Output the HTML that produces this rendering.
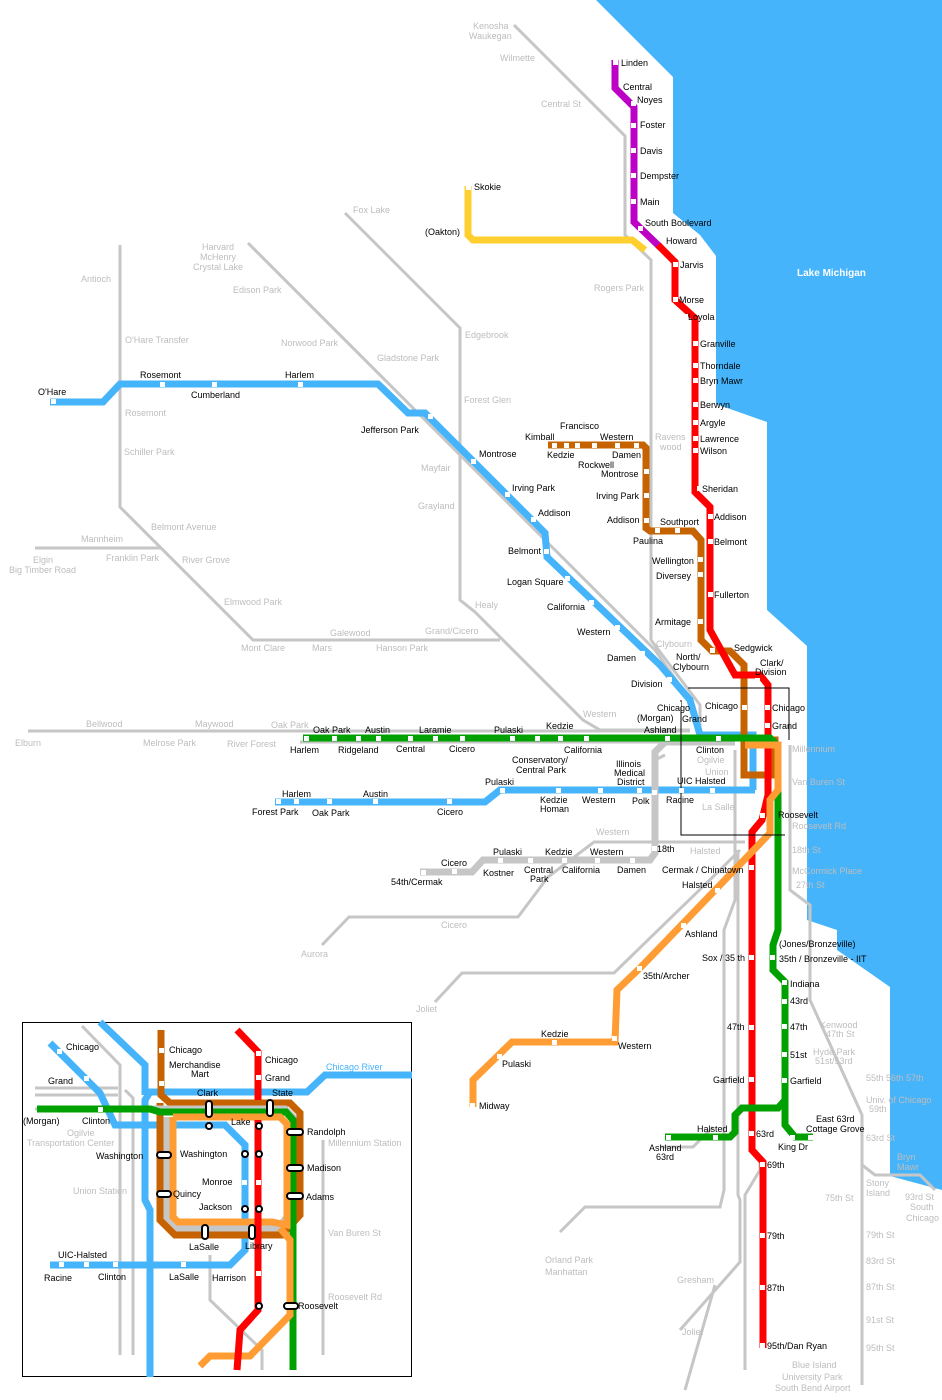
<!DOCTYPE html>
<html><head><meta charset="utf-8"><style>
html,body{margin:0;padding:0;background:#fff;}
svg{display:block;}
text{font-family:"Liberation Sans",sans-serif;font-size:9px;fill:#000;}
g.g text{fill:#bdbdbd;}
.gl{fill:none;stroke:#c6c6c6;stroke-width:3;stroke-linejoin:miter;}
.ln{fill:none;stroke-width:7;stroke-linejoin:miter;}
.st{fill:#fff;}
text.lake{fill:#fff;font-weight:bold;font-size:10px;}
</style></head><body>
<svg width="942" height="1400" viewBox="0 0 942 1400" xmlns="http://www.w3.org/2000/svg">
<!-- Lake -->
<polygon fill="#45b4fa" points="596,0 942,0 942,1190 890,1176 890,987 837,950 837,930 807,920 807,646 767,610 767,422 716,404 716,256 700,235 673,213 673,77"/>
<text class="lake" x="797" y="276">Lake Michigan</text>

<!-- Gray Metra lines -->
<g class="gl">
<polyline points="514,25 625,136 625,235 651,260 651,640 700,705 700,735"/>
<polyline points="120,245 120,507 253,640 500,640"/>
<polyline points="35,548 162,548"/>
<polyline points="345,213 460,328 460,600 475,612 583,720 600,730 690,730"/>
<polyline points="248,243 430,425 520,515 655,650 690,700 700,733"/>
<polyline points="28,731 300,731 690,731"/>
<polyline points="300,742 690,742"/>
<polyline points="322,945 349,917 518,917 548,877 594,842 745,842"/>
<polyline points="435,1002 462,973 614,973 720,870 740,850"/>
<polyline points="790,745 790,890 810,905 810,1000 862,1115 862,1385"/>
<polyline points="862,1165 875,1175 920,1175 935,1190"/>
<polyline points="680,1330 740,1262 740,1200 738,1195 738,850"/>
<polyline points="560,1232 585,1207 720,1207 724,1190 724,930 735,900 735,750"/>
<polyline points="685,1390 715,1285"/>
<polyline points="660,1147 693,1147 713,1127"/>
<polyline points="745,1370 745,1195 760,1170 760,1160"/>
<polyline points="655,760 665,755"/>
</g>

<!-- Yellow -->
<polyline class="ln" stroke="#ffcf30" points="468,186 468,235 473,240 632,240 645,250"/>
<!-- Purple -->
<polyline class="ln" stroke="#bd00c6" points="615,60 615,88 634,107 634,222 660,247"/>
<!-- Blue -->
<polyline class="ln" stroke="#45b4fa" points="50,402 103,402 120,384 378,384 408,413 425,413 545,533 547,557 660,665 690,700 700,735 753,735 753,790"/>
<polyline class="ln" stroke="#45b4fa" points="275,802 485,802 500,790 755,790"/>
<!-- Pink (gray) -->
<polyline class="ln" stroke="#c6c6c6" points="420,872 472,872 483,860 650,860 655,853 655,752 665,742 735,742"/>
<!-- Brown -->
<polyline class="ln" stroke="#c66300" points="548,445 643,445 646,448 646,528 650,531 693,531 701,540 701,640 712,651 730,651 744,665 744,775 775,775 775,740 744,740"/>
<!-- Red -->
<polyline class="ln" stroke="#ff0000" points="658,245 675,262 675,300 695,318 695,492 710,507 710,630 735,675 760,675 768,685 768,795 762,820 752,832 752,1150 763,1162 763,1348"/>
<!-- Green -->
<polyline class="ln" stroke="#00a000" points="303,738 770,738 778,746 778,930 773,945 773,970 785,982 785,1125 795,1137 813,1137"/>
<polyline class="ln" stroke="#00a000" points="785,1100 778,1108 742,1108 735,1115 735,1132 730,1137 665,1137"/>
<!-- Orange -->
<polyline class="ln" stroke="#ff9c33" points="473,1107 473,1080 512,1042 615,1042 617,990 640,968 720,885 770,833 770,800 778,790 778,745 745,745"/>

<!-- loop detail lines -->
<g fill="none" stroke="#000" stroke-width="1">
<polyline points="688,688 789,688 789,740"/>
<polyline points="681,700 681,835 785,835"/>
</g>

<!-- stations -->
<g class="st">
<rect x="613" y="60" width="5" height="5"/><rect x="631" y="101" width="5" height="5"/><rect x="631" y="123" width="5" height="5"/><rect x="631" y="148" width="5" height="5"/><rect x="631" y="173" width="5" height="5"/><rect x="631" y="199" width="5" height="5"/><rect x="638" y="226" width="5" height="5"/>
<rect x="466" y="185" width="5" height="5"/>
<rect x="673" y="262" width="5" height="5"/><rect x="673" y="297" width="5" height="5"/><rect x="683" y="314" width="5" height="5"/><rect x="693" y="341" width="5" height="5"/><rect x="693" y="363" width="5" height="5"/><rect x="693" y="378" width="5" height="5"/><rect x="693" y="402" width="5" height="5"/><rect x="693" y="420" width="5" height="5"/><rect x="693" y="436" width="5" height="5"/><rect x="693" y="448" width="5" height="5"/><rect x="697" y="486" width="5" height="5"/><rect x="708" y="514" width="5" height="5"/><rect x="708" y="539" width="5" height="5"/><rect x="708" y="592" width="5" height="5"/><rect x="755" y="678" width="5" height="5"/><rect x="765" y="705" width="5" height="5"/><rect x="765" y="723" width="5" height="5"/><rect x="760" y="813" width="5" height="5"/><rect x="749" y="865" width="5" height="5"/><rect x="749" y="955" width="5" height="5"/><rect x="749" y="1025" width="5" height="5"/><rect x="749" y="1077" width="5" height="5"/><rect x="749" y="1131" width="5" height="5"/><rect x="760" y="1162" width="5" height="5"/><rect x="760" y="1233" width="5" height="5"/><rect x="760" y="1285" width="5" height="5"/><rect x="760" y="1343" width="5" height="5"/>
<rect x="552" y="443" width="5" height="5"/><rect x="564" y="443" width="5" height="5"/><rect x="575" y="443" width="5" height="5"/><rect x="592" y="443" width="5" height="5"/><rect x="615" y="443" width="5" height="5"/><rect x="634" y="443" width="5" height="5"/><rect x="644" y="469" width="5" height="5"/><rect x="644" y="493" width="5" height="5"/><rect x="644" y="518" width="5" height="5"/><rect x="655" y="528" width="5" height="5"/><rect x="675" y="528" width="5" height="5"/><rect x="698" y="557" width="5" height="5"/><rect x="698" y="572" width="5" height="5"/><rect x="698" y="619" width="5" height="5"/><rect x="710" y="648" width="5" height="5"/><rect x="742" y="705" width="5" height="5"/>
<rect x="51" y="399" width="5" height="5"/><rect x="160" y="382" width="5" height="5"/><rect x="212" y="382" width="5" height="5"/><rect x="298" y="382" width="5" height="5"/><rect x="428" y="414" width="5" height="5"/><rect x="471" y="459" width="5" height="5"/><rect x="505" y="492" width="5" height="5"/><rect x="531" y="517" width="5" height="5"/><rect x="544" y="549" width="5" height="5"/><rect x="565" y="576" width="5" height="5"/><rect x="589" y="600" width="5" height="5"/><rect x="615" y="625" width="5" height="5"/><rect x="640" y="651" width="5" height="5"/><rect x="667" y="677" width="5" height="5"/><rect x="676" y="702" width="5" height="5"/>
<rect x="276" y="799" width="5" height="5"/><rect x="294" y="799" width="5" height="5"/><rect x="327" y="799" width="5" height="5"/><rect x="373" y="799" width="5" height="5"/><rect x="447" y="799" width="5" height="5"/><rect x="500" y="788" width="5" height="5"/><rect x="556" y="788" width="5" height="5"/><rect x="598" y="788" width="5" height="5"/><rect x="637" y="788" width="5" height="5"/><rect x="679" y="788" width="5" height="5"/><rect x="710" y="788" width="5" height="5"/>
<rect x="304" y="736" width="5" height="5"/><rect x="332" y="736" width="5" height="5"/><rect x="356" y="736" width="5" height="5"/><rect x="376" y="736" width="5" height="5"/><rect x="408" y="736" width="5" height="5"/><rect x="433" y="736" width="5" height="5"/><rect x="460" y="736" width="5" height="5"/><rect x="510" y="736" width="5" height="5"/><rect x="535" y="736" width="5" height="5"/><rect x="558" y="736" width="5" height="5"/><rect x="584" y="736" width="5" height="5"/><rect x="665" y="736" width="5" height="5"/><rect x="716" y="736" width="5" height="5"/>
<rect x="770" y="955" width="5" height="5"/><rect x="782" y="980" width="5" height="5"/><rect x="782" y="999" width="5" height="5"/><rect x="782" y="1024" width="5" height="5"/><rect x="782" y="1052" width="5" height="5"/><rect x="782" y="1078" width="5" height="5"/><rect x="790" y="1135" width="5" height="5"/><rect x="808" y="1135" width="5" height="5"/><rect x="666" y="1135" width="5" height="5"/><rect x="713" y="1135" width="5" height="5"/>
<rect x="470" y="1103" width="5" height="5"/><rect x="497" y="1054" width="5" height="5"/><rect x="552" y="1040" width="5" height="5"/><rect x="612" y="1036" width="5" height="5"/><rect x="637" y="966" width="5" height="5"/><rect x="681" y="923" width="5" height="5"/><rect x="715" y="888" width="5" height="5"/>
<rect x="421" y="870" width="5" height="5"/><rect x="452" y="869" width="5" height="5"/><rect x="498" y="858" width="5" height="5"/><rect x="528" y="858" width="5" height="5"/><rect x="562" y="858" width="5" height="5"/><rect x="595" y="858" width="5" height="5"/><rect x="630" y="858" width="5" height="5"/><rect x="652" y="846" width="5" height="5"/><rect x="652" y="790" width="5" height="5"/>
</g>

<!-- Black labels -->
<g>
<text x="621" y="66">Linden</text><text x="623" y="90">Central</text><text x="637" y="103">Noyes</text><text x="640" y="128">Foster</text><text x="640" y="154">Davis</text><text x="640" y="179">Dempster</text><text x="640" y="205">Main</text><text x="645" y="226">South Boulevard</text><text x="666" y="244">Howard</text>
<text x="474" y="190">Skokie</text><text x="425" y="235">(Oakton)</text>
<text x="680" y="268">Jarvis</text><text x="679" y="303">Morse</text><text x="688" y="320">Loyola</text><text x="700" y="347">Granville</text><text x="700" y="369">Thorndale</text><text x="700" y="384">Bryn Mawr</text><text x="700" y="408">Berwyn</text><text x="700" y="426">Argyle</text><text x="700" y="442">Lawrence</text><text x="700" y="454">Wilson</text><text x="702" y="492">Sheridan</text><text x="714" y="520">Addison</text><text x="714" y="545">Belmont</text><text x="714" y="598">Fullerton</text><text x="734" y="651">Sedgwick</text><text x="760" y="666">Clark/</text><text x="755" y="675">Division</text><text x="772" y="711">Chicago</text><text x="772" y="729">Grand</text><text x="778" y="818">Roosevelt</text>
<text x="560" y="429">Francisco</text><text x="525" y="440">Kimball</text><text x="600" y="440">Western</text><text x="547" y="458">Kedzie</text><text x="612" y="458">Damen</text><text x="578" y="468">Rockwell</text><text x="601" y="477">Montrose</text><text x="596" y="499">Irving Park</text><text x="607" y="523">Addison</text><text x="660" y="525">Southport</text><text x="633" y="544">Paulina</text><text x="652" y="564">Wellington</text><text x="656" y="579">Diversey</text><text x="655" y="625">Armitage</text><text x="676" y="660">North/</text><text x="673" y="670">Clybourn</text>
<text x="38" y="395">O'Hare</text><text x="140" y="378">Rosemont</text><text x="191" y="398">Cumberland</text><text x="285" y="378">Harlem</text><text x="361" y="433">Jefferson Park</text><text x="479" y="457">Montrose</text><text x="512" y="491">Irving Park</text><text x="538" y="516">Addison</text><text x="508" y="554">Belmont</text><text x="507" y="585">Logan Square</text><text x="547" y="610">California</text><text x="577" y="635">Western</text><text x="607" y="661">Damen</text><text x="631" y="687">Division</text><text x="657" y="711">Chicago</text><text x="637" y="721">(Morgan)</text><text x="682" y="722">Grand</text><text x="644" y="733">Ashland</text><text x="705" y="709">Chicago</text>
<text x="313" y="733">Oak Park</text><text x="365" y="733">Austin</text><text x="419" y="733">Laramie</text><text x="494" y="733">Pulaski</text><text x="546" y="729">Kedzie</text><text x="290" y="753">Harlem</text><text x="338" y="753">Ridgeland</text><text x="396" y="752">Central</text><text x="449" y="752">Cicero</text><text x="564" y="753">California</text><text x="512" y="763">Conservatory/</text><text x="516" y="773">Central Park</text><text x="616" y="767">Illinois</text><text x="614" y="776">Medical</text><text x="617" y="785">District</text><text x="696" y="753">Clinton</text><text x="677" y="784">UIC Halsted</text>
<text x="282" y="797">Harlem</text><text x="363" y="797">Austin</text><text x="252" y="815">Forest Park</text><text x="312" y="816">Oak Park</text><text x="437" y="815">Cicero</text><text x="485" y="785">Pulaski</text><text x="540" y="803">Kedzie</text><text x="540" y="812">Homan</text><text x="582" y="803">Western</text><text x="632" y="804">Polk</text><text x="666" y="803">Racine</text>
<text x="441" y="866">Cicero</text><text x="493" y="855">Pulaski</text><text x="545" y="855">Kedzie</text><text x="590" y="855">Western</text><text x="657" y="852">18th</text><text x="391" y="885">54th/Cermak</text><text x="483" y="876">Kostner</text><text x="524" y="873">Central</text><text x="530" y="882">Park</text><text x="562" y="873">California</text><text x="617" y="873">Damen</text><text x="662" y="873">Cermak / Chinatown</text><text x="682" y="888">Halsted</text>
<text x="685" y="937">Ashland</text><text x="643" y="979">35th/Archer</text><text x="702" y="961">Sox / 35 th</text><text x="779" y="947">(Jones/Bronzeville)</text><text x="779" y="962">35th / Bronzeville - IIT</text><text x="790" y="987">Indiana</text><text x="790" y="1004">43rd</text><text x="790" y="1030">47th</text><text x="790" y="1058">51st</text><text x="790" y="1084">Garfield</text><text x="727" y="1030">47th</text><text x="713" y="1083">Garfield</text><text x="816" y="1122">East 63rd</text><text x="806" y="1132">Cottage Grove</text><text x="778" y="1150">King Dr</text><text x="697" y="1132">Halsted</text><text x="649" y="1151">Ashland</text><text x="656" y="1160">63rd</text><text x="756" y="1137">63rd</text><text x="767" y="1168">69th</text><text x="767" y="1239">79th</text><text x="767" y="1291">87th</text><text x="767" y="1349">95th/Dan Ryan</text>
<text x="541" y="1037">Kedzie</text><text x="502" y="1067">Pulaski</text><text x="618" y="1049">Western</text><text x="479" y="1109">Midway</text>
</g>
<!-- gray labels -->
<g class="g">
<text x="473" y="29">Kenosha</text><text x="469" y="39">Waukegan</text><text x="500" y="61">Wilmette</text><text x="541" y="107">Central St</text><text x="594" y="291">Rogers Park</text><text x="655" y="440">Ravens</text><text x="660" y="450">wood</text><text x="656" y="647">Clybourn</text><text x="583" y="717">Western</text>
<text x="353" y="213">Fox Lake</text><text x="202" y="250">Harvard</text><text x="200" y="260">McHenry</text><text x="193" y="270">Crystal Lake</text><text x="233" y="293">Edison Park</text><text x="281" y="346">Norwood Park</text><text x="377" y="361">Gladstone Park</text><text x="465" y="338">Edgebrook</text><text x="464" y="403">Forest Glen</text><text x="421" y="471">Mayfair</text><text x="418" y="509">Grayland</text><text x="475" y="608">Healy</text><text x="425" y="634">Grand/Cicero</text>
<text x="81" y="282">Antioch</text><text x="125" y="343">O'Hare Transfer</text><text x="125" y="416">Rosemont</text><text x="124" y="455">Schiller Park</text><text x="151" y="530">Belmont Avenue</text><text x="81" y="542">Mannheim</text><text x="106" y="561">Franklin Park</text><text x="33" y="563">Elgin</text><text x="9" y="573">Big Timber Road</text><text x="182" y="563">River Grove</text><text x="224" y="605">Elmwood Park</text><text x="241" y="651">Mont Clare</text><text x="312" y="651">Mars</text><text x="330" y="636">Galewood</text><text x="376" y="651">Hanson Park</text>
<text x="86" y="727">Bellwood</text><text x="195" y="727">Maywood</text><text x="271" y="728">Oak Park</text><text x="15" y="746">Elburn</text><text x="143" y="746">Melrose Park</text><text x="227" y="747">River Forest</text>
<text x="596" y="835">Western</text><text x="441" y="928">Cicero</text><text x="301" y="957">Aurora</text><text x="416" y="1012">Joliet</text>
<text x="697" y="763">Ogilvie</text><text x="705" y="775">Union</text><text x="702" y="810">La Salle</text><text x="690" y="854">Halsted</text>
<text x="792" y="752">Millennium</text><text x="792" y="785">Van Buren St</text><text x="792" y="829">Roosevelt Rd</text><text x="792" y="853">18th St</text><text x="792" y="874">McCormick Place</text><text x="796" y="888">27th St</text>
<text x="820" y="1028">Kenwood</text><text x="826" y="1037">47th St</text><text x="813" y="1055">Hyde Park</text><text x="815" y="1064">51st/53rd</text><text x="866" y="1081">55th 56th 57th</text><text x="866" y="1103">Univ. of Chicago</text><text x="869" y="1112">59th</text><text x="866" y="1141">63rd St</text><text x="897" y="1160">Bryn</text><text x="897" y="1170">Mawr</text><text x="866" y="1186">Stony</text><text x="866" y="1196">Island</text><text x="825" y="1201">75th St</text><text x="905" y="1200">93rd St</text><text x="910" y="1210">South</text><text x="906" y="1221">Chicago</text><text x="866" y="1238">79th St</text><text x="866" y="1264">83rd St</text><text x="866" y="1290">87th St</text><text x="866" y="1323">91st St</text><text x="866" y="1351">95th St</text><text x="792" y="1368">Blue Island</text><text x="782" y="1380">University Park</text><text x="775" y="1391">South Bend Airport</text>
<text x="545" y="1263">Orland Park</text><text x="545" y="1275">Manhattan</text><text x="677" y="1283">Gresham</text><text x="682" y="1335">Joliet</text>
</g>

<!-- INSET -->
<rect x="22.5" y="1022.5" width="389" height="354" fill="#fff" stroke="#000"/>
<g class="gl">
<polyline points="82,1026 120,1065 120,1355"/>
<polyline points="35,1088 118,1088"/><polyline points="35,1095 118,1095"/>
<polyline points="125,1090 133,1098 133,1355"/>
<polyline points="210,1255 210,1300 262,1350 262,1370"/>
<polyline points="323,1140 323,1355"/>
<polyline points="35,1109 150,1109"/>
</g>
<g class="ln" stroke-width="5">
<polyline stroke="#45b4fa" points="150,1377 150,1210 145,1200 145,1100 150,1092 307,1092 325,1075 412,1075"/>
<polyline stroke="#45b4fa" points="100,1022 145,1065 145,1095"/>
<polyline stroke="#45b4fa" points="50,1043 100,1093 115,1125 225,1125 245,1145 245,1250 230,1265 50,1265"/>
<polyline stroke="#c66300" points="161,1030 161,1095 170,1103 290,1103 300,1113 300,1215 282,1235 175,1235 160,1220 160,1103"/>
<polyline stroke="#c6c6c6" points="150,1109 285,1109 293,1117 293,1210 278,1228 178,1228 167,1217 167,1117"/>
<polyline stroke="#00a000" points="37,1109 150,1109 160,1112 286,1112 293,1120 293,1370"/>
<polyline stroke="#ff9c33" points="173,1117 280,1117 287,1124 287,1225 272,1222 178,1222 173,1217 173,1117"/>
<polyline stroke="#ff9c33" points="200,1366 210,1356 250,1356 290,1315 290,1240 280,1228"/>
<polyline stroke="#ff0000" points="237,1030 258,1052 258,1100"/>
<polyline stroke="#ff0000" points="258,1120 258,1310 240,1330 237,1370"/>
</g>
<g fill="#fff" stroke="#000" stroke-width="2">
<rect x="206" y="1101" width="6" height="16" rx="3"/><rect x="267" y="1100" width="6" height="16" rx="3"/>
<rect x="287" y="1129" width="16" height="6" rx="3"/><rect x="287" y="1165" width="16" height="6" rx="3"/><rect x="287" y="1193" width="16" height="6" rx="3"/>
<rect x="157" y="1152" width="14" height="6" rx="3"/><rect x="157" y="1191" width="14" height="6" rx="3"/>
<rect x="202" y="1225" width="6" height="14" rx="3"/><rect x="249" y="1225" width="6" height="14" rx="3"/>
<rect x="284" y="1303" width="14" height="6" rx="3"/>
<circle cx="209" cy="1126" r="3"/><circle cx="259" cy="1126" r="3"/><circle cx="245" cy="1154" r="3"/><circle cx="259" cy="1154" r="3"/><circle cx="245" cy="1209" r="3"/><circle cx="259" cy="1209" r="3"/><circle cx="259" cy="1306" r="3"/>
</g>
<g class="st">
<rect x="57" y="1049" width="5" height="5"/><rect x="84" y="1076" width="5" height="5"/><rect x="159" y="1048" width="5" height="5"/><rect x="159" y="1081" width="5" height="5"/><rect x="256" y="1051" width="5" height="5"/><rect x="256" y="1075" width="5" height="5"/><rect x="242" y="1180" width="5" height="5"/><rect x="256" y="1180" width="5" height="5"/><rect x="256" y="1271" width="5" height="5"/><rect x="59" y="1262" width="5" height="5"/><rect x="84" y="1262" width="5" height="5"/><rect x="113" y="1262" width="5" height="5"/><rect x="181" y="1262" width="5" height="5"/><rect x="98" y="1107" width="5" height="5"/>
</g>
<g>
<text x="66" y="1050">Chicago</text><text x="48" y="1084">Grand</text><text x="23" y="1124">(Morgan)</text><text x="82" y="1124">Clinton</text><text x="169" y="1053">Chicago</text><text x="169" y="1068">Merchandise</text><text x="191" y="1077">Mart</text><text x="265" y="1063">Chicago</text><text x="265" y="1081">Grand</text><text x="197" y="1096">Clark</text><text x="272" y="1096">State</text><text x="231" y="1125">Lake</text><text x="307" y="1135">Randolph</text><text x="96" y="1159">Washington</text><text x="180" y="1157">Washington</text><text x="307" y="1171">Madison</text><text x="202" y="1185">Monroe</text><text x="173" y="1197">Quincy</text><text x="199" y="1210">Jackson</text><text x="306" y="1200">Adams</text><text x="189" y="1250">LaSalle</text><text x="245" y="1249">Library</text><text x="58" y="1258">UIC-Halsted</text><text x="44" y="1281">Racine</text><text x="98" y="1280">Clinton</text><text x="169" y="1280">LaSalle</text><text x="212" y="1281">Harrison</text><text x="298" y="1309">Roosevelt</text>
</g>
<g class="g">
<text x="67" y="1136">Ogilvie</text><text x="27" y="1146">Transportation Center</text><text x="73" y="1194">Union Station</text><text x="328" y="1146">Millennium Station</text><text x="328" y="1236">Van Buren St</text><text x="328" y="1300">Roosevelt Rd</text>
</g>
<text x="326" y="1070" style="fill:#45b4fa">Chicago River</text>
</svg>
</body></html>
